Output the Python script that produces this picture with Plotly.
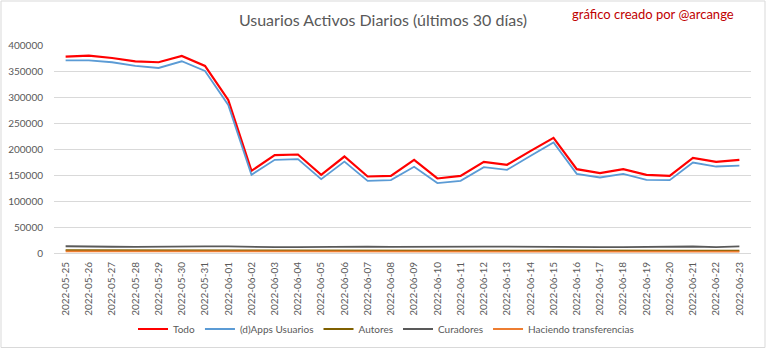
import plotly.graph_objects as go

# Fechas (eje de categorías)
fechas = [
    "2022-05-25", "2022-05-26", "2022-05-27", "2022-05-28", "2022-05-29",
    "2022-05-30", "2022-05-31", "2022-06-01", "2022-06-02", "2022-06-03",
    "2022-06-04", "2022-06-05", "2022-06-06", "2022-06-07", "2022-06-08",
    "2022-06-09", "2022-06-10", "2022-06-11", "2022-06-12", "2022-06-13",
    "2022-06-14", "2022-06-15", "2022-06-16", "2022-06-17", "2022-06-18",
    "2022-06-19", "2022-06-20", "2022-06-21", "2022-06-22", "2022-06-23",
]

todo = [
    377500, 379400, 375000, 368700, 366800, 378900, 359700, 294400, 158000, 188200,
    189400, 150400, 185500, 147100, 148400, 179200, 143300, 148400, 175300, 169600,
    196000, 221400, 161300, 153600, 161300, 150400, 148400, 183000, 175300, 179200,
]

dapps = [
    370600, 370600, 366800, 359700, 355800, 368700, 350000, 284800, 150400, 179200,
    180500, 142100, 175900, 138800, 140200, 165700, 134400, 138800, 165100, 160000,
    186500, 212400, 152300, 145200, 152300, 140800, 140200, 174000, 166300, 168200,
]

autores = [
    5500, 5400, 5200, 5000, 4800, 5300, 5200, 5100, 4700, 4600,
    4500, 4600, 4700, 4600, 4500, 4700, 4600, 4500, 4700, 4600,
    4700, 4800, 4500, 4400, 4500, 4300, 4400, 4500, 4400, 4500,
]

curadores = [
    13000, 13200, 12000, 11800, 12500, 12800, 12900, 12600, 11500, 11400,
    11200, 12000, 12300, 12400, 11600, 11500, 12000, 11000, 12200, 12300,
    12400, 11600, 11500, 11400, 11300, 12000, 12300, 12500, 11300, 12600,
]

transferencias = [
    3200, 3100, 3000, 2900, 2700, 3000, 2900, 2800, 2500, 2600,
    2500, 2600, 2700, 2600, 2500, 2700, 2600, 2500, 2700, 2600,
    2700, 2800, 2500, 2500, 2600, 2400, 2500, 2600, 2500, 2600,
]

series = [
    ("Todo", todo, "#FF0000", 2.2),
    ("(d)Apps Usuarios", dapps, "#5B9BD5", 1.8),
    ("Autores", autores, "#7F6000", 1.8),
    ("Curadores", curadores, "#595959", 1.8),
    ("Haciendo transferencias", transferencias, "#ED7D31", 1.8),
]

FONT = "Lato"
GRIS = "#595959"

fig = go.Figure()
for nombre, valores, color, ancho in series:
    fig.add_trace(go.Scatter(
        x=fechas, y=valores, name=nombre, mode="lines",
        line=dict(color=color, width=ancho),
    ))

W, H = 768, 349
L, R, T, B = 54, 17, 45, 96
pw, ph = W - L - R, H - T - B

def px_x(p):
    return (p - L) / pw

def px_y(p):
    return (H - B - p) / ph

fig.update_layout(
    width=W, height=H,
    margin=dict(l=L, r=R, t=T, b=B, autoexpand=False),
    paper_bgcolor="white", plot_bgcolor="white",
    font=dict(family=FONT, color=GRIS, size=10),
    title=dict(
        text="Usuarios Activos Diarios (últimos 30 días)",
        x=383 / W, xanchor="center", xref="container",
        y=1 - 20 / H, yanchor="middle",
        font=dict(family=FONT, size=16, color=GRIS),
    ),
    showlegend=True,
    legend=dict(
        orientation="h", x=px_x(386), xanchor="center",
        y=px_y(329), yanchor="middle",
        font=dict(family=FONT, size=10, color=GRIS),
        tracegroupgap=0,
    ),
    xaxis=dict(
        type="category", range=[-0.5, len(fechas) - 0.5],
        tickangle=-90, showgrid=False, automargin=False,
        showline=True, linecolor="#D9D9D9", linewidth=1,
        ticks="", ticklabelstandoff=4,
        tickfont=dict(family=FONT, size=10, color=GRIS),
    ),
    yaxis=dict(
        range=[0, 400000], dtick=50000, tickformat="d",
        showgrid=True, gridcolor="#D9D9D9", gridwidth=1,
        zeroline=False, showline=False, ticks="", automargin=False,
        ticklabelstandoff=10,
        tickfont=dict(family=FONT, size=10, color=GRIS),
    ),
    annotations=[dict(
        text="gráfico creado por @arcange",
        xref="paper", yref="paper",
        x=px_x(736), y=px_y(14), xanchor="right", yanchor="middle",
        showarrow=False,
        font=dict(family=FONT, size=13, color="#C00000"),
    )],
    shapes=[dict(
        type="rect", xref="paper", yref="paper",
        x0=px_x(1), x1=px_x(765), y0=px_y(347.5), y1=px_y(1),
        line=dict(color="#D9D9D9", width=1), layer="below",
    )],
)

fig.write_html("out.html")
